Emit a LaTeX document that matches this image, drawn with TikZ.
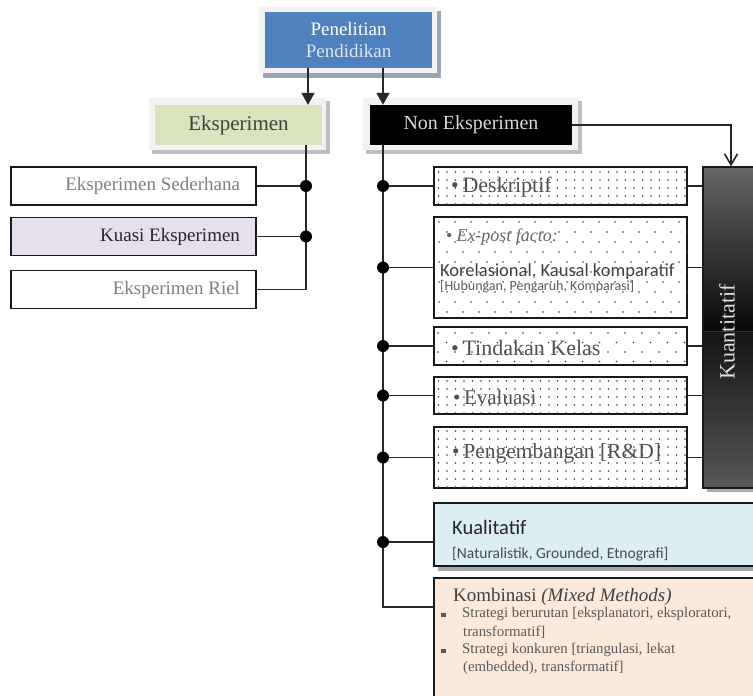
\documentclass[tikz,border=0pt]{standalone}
\usepackage{fontspec}
\setmainfont{Liberation Serif}
\newfontfamily\calfont{Carlito}
\usetikzlibrary{arrows.meta,calc}

\definecolor{topblue}{HTML}{4F81BD}
\definecolor{pendtext}{HTML}{DCE6F2}
\definecolor{framegrey}{HTML}{F2F2F2}
\definecolor{shadowgrey}{HTML}{BFBFBF}
\definecolor{topshadow}{HTML}{9BA5B3}
\definecolor{eksgreen}{HTML}{D7E4BD}
\definecolor{kuasifill}{HTML}{E5E0EC}
\definecolor{kualblue}{HTML}{DAEEF3}
\definecolor{kombpeach}{HTML}{FDE9D9}
\definecolor{txtgrey}{HTML}{7F7F7F}
\definecolor{txtdark}{HTML}{262626}
\definecolor{txtmid}{HTML}{505050}

\newcommand{\myfs}[2]{\fontsize{#1}{#2}\selectfont}
% x0 y0 ncols-1 nrows-1 dx dy stagger(0/1)
\newcommand{\dotsgrid}[7]{%
  \foreach \j in {0,...,#4}{%
    \foreach \i in {0,...,#3}{%
      \fill[black!75] ({#1+\i*#5+#7*mod(\j,2)*#5/2},{#2+\j*#6}) circle (0.8pt);
    }%
  }%
}

\begin{document}
\begin{tikzpicture}[x=1pt,y=-1pt,
  boxline/.style={draw=black!90, line width=1.2pt, inner sep=0pt},
  conn/.style={line width=1.6pt, draw=black!85},
  leftbox/.style={boxline, minimum width=245pt, minimum height=38pt, font=\myfs{19}{22}},
  dotbox/.style={boxline, minimum width=253pt, fill=white},
  lbl/.style={anchor=west, inner sep=0pt},
  jdot/.style={fill=black}
]
\useasboundingbox (0,0) rectangle (753,696);
\clip (0,0) rectangle (753,696);
\fill[white] (0,0) rectangle (753,696);

% ---- frames and shadows
\fill[topshadow] (263,11) rectangle (441,78);
\fill[framegrey] (259,7) rectangle (437,73);
\fill[shadowgrey] (152,101) rectangle (330,154);
\fill[framegrey] (149,98) rectangle (326,150);
\fill[shadowgrey] (366,101) rectangle (582,154);
\fill[framegrey] (363,98) rectangle (578,150);
\fill[gray!65] (707,171) rectangle (800,492);
\fill[gray!70] (438,507) rectangle (800,571);

% ---- top level
\node[fill=topblue, minimum width=167pt, minimum height=56pt, inner sep=0pt, align=center,
  font=\myfs{19}{22}] (top) at (348.5,40) {\color{white}Penelitian\\\color{pendtext}Pendidikan};
\node[fill=eksgreen, minimum width=167pt, minimum height=40pt, inner sep=0pt,
  font=\myfs{21}{24}, text=black!75] (eks) at (238.5,125) {Eksperimen};
\node[fill=black, minimum width=202pt, minimum height=40pt, inner sep=0pt,
  font=\myfs{20}{24}, text=black!15] (nonek) at (471,125) {Non Eksperimen\hspace{12pt}};

% ---- left boxes
\node[leftbox, fill=white, text=txtgrey] (sed) at (133.5,186) {\makebox[213pt][r]{Eksperimen Sederhana}};
\node[leftbox, fill=kuasifill, text=txtdark] (kuasi) at (133.5,236.5) {\makebox[213pt][r]{Kuasi Eksperimen}};
\node[leftbox, fill=white, text=txtgrey] (riel) at (133.5,289.5) {\makebox[213pt][r]{Eksperimen Riel}};

% ---- dotted boxes
\node[dotbox, minimum height=38pt] (desk) at (560.5,186) {};
\node[dotbox, minimum height=101pt] (expost) at (560.5,267.5) {};
\node[dotbox, minimum height=38pt] (tind) at (560.5,346) {};
\node[dotbox, minimum height=37pt] (eval) at (560.5,395.5) {};
\node[dotbox, minimum height=61pt] (peng) at (560.5,457.5) {};
\dotsgrid{438.5}{172}{29}{4}{8.5}{8}{0}
\dotsgrid{439}{222}{15}{9}{16}{10}{1}
\dotsgrid{438}{333}{14}{3}{17}{9.5}{1}
\dotsgrid{438.5}{381}{29}{4}{8.5}{8}{0}
\dotsgrid{438.5}{431}{29}{7}{8.5}{8}{0}

\node[lbl, text=txtmid, font=\myfs{22}{26}] (deskt) at (451,187) {\textbullet\,Deskriptif};
\node[lbl, text=black!60, font=\myfs{18}{20}] (expt1) at (446,237) {\textbullet\hspace{4pt}\textit{Ex-post facto:}};
\node[lbl, text=black!75, font=\calfont\myfs{18.5}{20}] (expt2) at (440,272) {Korelasional, Kausal komparatif};
\node[lbl, text=black!65, font=\calfont\myfs{14}{16}] (expt3) at (440,287) {[Hubungan, Pengaruh, Komparasi]};
\node[lbl, text=txtmid, font=\myfs{22}{26}] (tindt) at (451,348) {\textbullet\,Tindakan Kelas};
\node[lbl, text=txtmid, font=\myfs{21}{24}] (evalt) at (453,397) {\textbullet\,Evaluasi};
\node[lbl, text=txtmid, font=\myfs{21.5}{24}] (pengt) at (452,453) {\textbullet\,Pengembangan [R\&D]};

% ---- Kuantitatif
\shade[top color=black!60, bottom color=black!97] (703,167) rectangle (800,331);
\shade[top color=black!92, bottom color=black!66] (703,331) rectangle (800,488);
\draw[black!80, line width=0.8pt] (703,331) -- (800,331);
\node[boxline, minimum width=97pt, minimum height=321pt] (kuant) at (751.5,327.5) {};
\node[rotate=90, text=black!12, font=\myfs{22}{26}, inner sep=0pt] (kuantt) at (727,332) {Kuantitatif};

% ---- Kualitatif and Kombinasi
\node[boxline, fill=kualblue, minimum width=366pt, minimum height=63pt] (kual) at (617,534.5) {};
\node[lbl, text=txtdark, font=\calfont\myfs{20.5}{24}] (kualt1) at (452,527) {Kualitatif};
\node[lbl, text=black!70, font=\calfont\myfs{15.5}{18}] (kualt2) at (452,554) {[Naturalistik, Grounded, Etnografi]};

\node[boxline, fill=kombpeach, minimum width=366pt, minimum height=142pt] (komb) at (617,649) {};
\node[lbl, text=black!75, font=\myfs{19}{22}] (kombt) at (453,597) {Kombinasi \textit{(Mixed Methods)}};
\node[lbl, text=black!65, font=\myfs{14.8}{16}] (kb1) at (441,614) {\rule[1pt]{5pt}{4pt}\hspace{16pt}Strategi berurutan [eksplanatori, eksploratori,};
\node[lbl, text=black!65, font=\myfs{14.8}{16}] (kb2) at (463,632) {transformatif]};
\node[lbl, text=black!65, font=\myfs{14.8}{16}] (kb3) at (441,650) {\rule[1pt]{5pt}{4pt}\hspace{16pt}Strategi konkuren [triangulasi, lekat};
\node[lbl, text=black!65, font=\myfs{14.8}{16}] (kb4) at (463,668) {(embedded), transformatif]};

% ---- connectors
\coordinate (a1) at (308,0);
\coordinate (a2) at (383,0);
\coordinate (ev) at (306,0);
\coordinate (nv) at (383,0);
\coordinate (kq) at (731,0);
\coordinate (kl) at (434,607);

\draw[conn, -{Triangle[width=13pt,length=12pt]}] (top.south -| a1) -- (eks.north -| a1);
\draw[conn, -{Triangle[width=13pt,length=12pt]}] (top.south -| a2) -- (nonek.north -| a2);
\draw[conn, -{Straight Barb[width=13pt,length=11pt]}] (nonek.east) -| (kuant.north -| kq);

\draw[conn] (eks.south -| ev) |- (riel.east);
\draw[conn] (sed.east) -- (sed.east -| ev);
\draw[conn] (kuasi.east) -- (kuasi.east -| ev);
\fill[jdot] (sed.east -| ev) circle (6pt);
\fill[jdot] (kuasi.east -| ev) circle (6pt);

\draw[conn] (nonek.south -| nv) |- (kl);
\foreach \b in {desk,expost,tind,eval,peng}{
  \draw[conn] (nv |- \b.west) -- (\b.west);
  \fill[jdot] (nv |- \b.west) circle (6pt);
  \draw[conn] (\b.east) -- (\b.east -| kuant.west);
}
\coordinate (kj) at ([yshift=-7.5pt]kual.west);
\draw[conn] (nv |- kj) -- (kj);
\fill[jdot] (nv |- kj) circle (6pt);
\end{tikzpicture}
\end{document}
